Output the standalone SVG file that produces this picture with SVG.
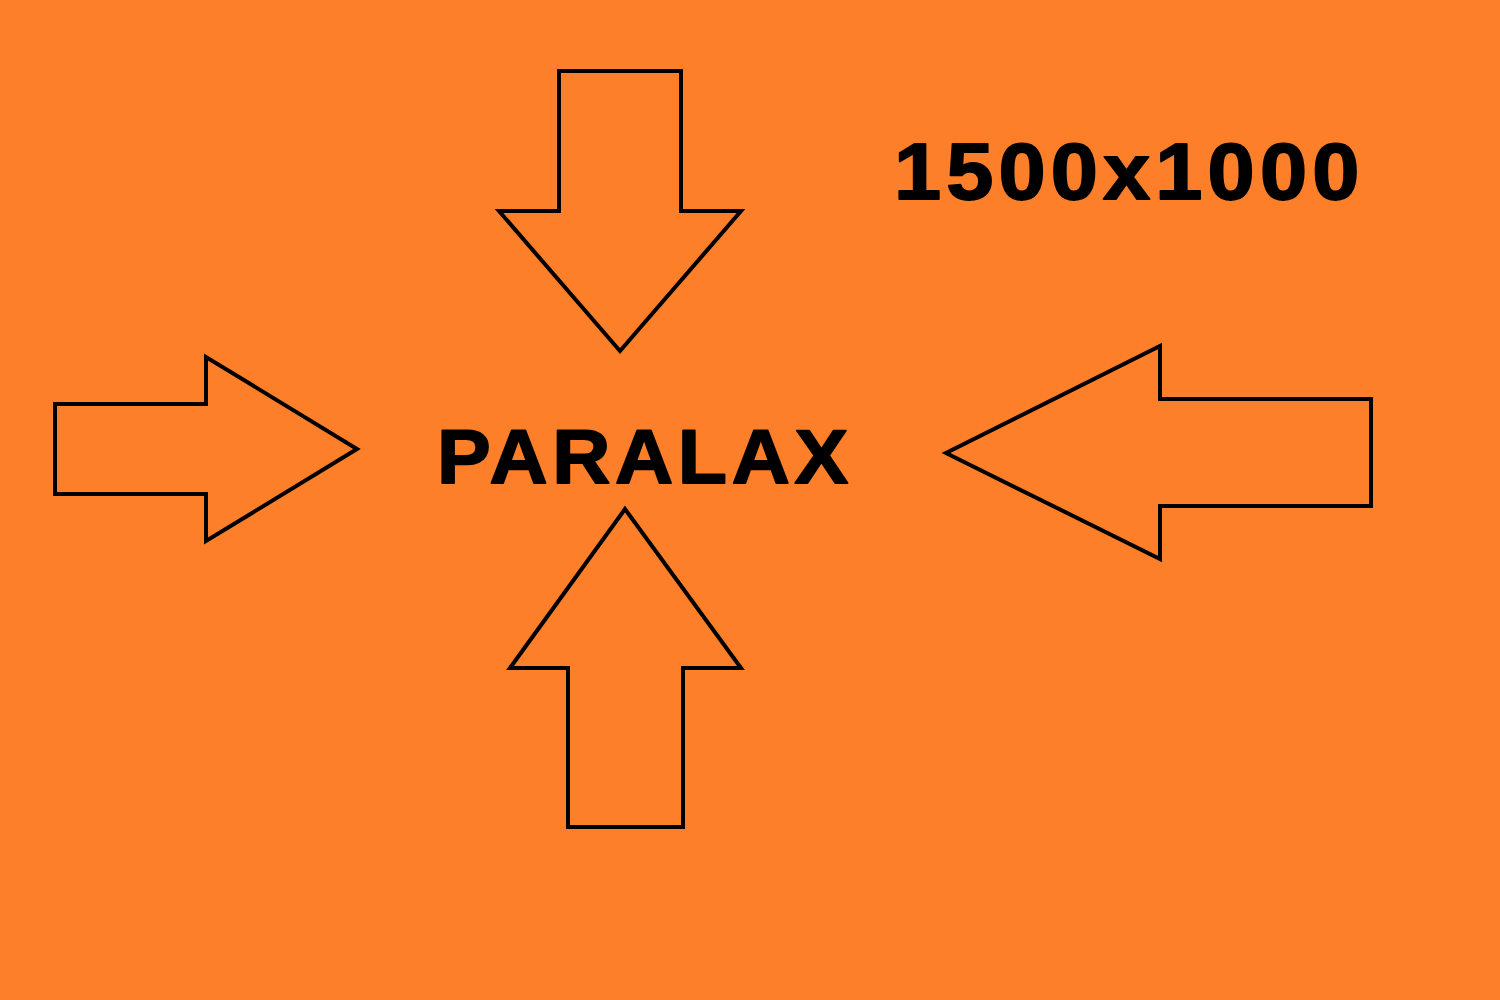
<svg xmlns="http://www.w3.org/2000/svg" width="1500" height="1000" viewBox="0 0 1500 1000">
<style>
.arrow{fill:none;stroke:#000;stroke-width:4;stroke-linejoin:miter}
.t{font-family:"Liberation Sans",Arial,sans-serif;font-weight:bold;fill:#000;stroke:#000;stroke-width:1.8;stroke-linejoin:round}
</style>
<rect width="1500" height="1000" fill="#FE7F2A"/>
<g id="arrow-top"><polygon class="arrow" points="559,71 681,71 681,211 741,211 620,351 499,211 559,211"/></g>
<g id="arrow-left"><polygon class="arrow" points="55,404 206,404 206,357 357,449 206,541 206,494 55,494"/></g>
<g id="arrow-right"><polygon class="arrow" points="1371,399 1160,399 1160,346 946,453 1160,559 1160,506 1371,506"/></g>
<g id="arrow-bottom"><polygon class="arrow" points="568,827 683,827 683,668 741,668 625,509 510,668 568,668"/></g>
<g id="label-paralax" transform="translate(437,483) scale(1.06,1)"><text class="t" x="0" y="0" font-size="76" textLength="388" lengthAdjust="spacing">PARALAX</text></g>
<g id="label-size" transform="translate(894,199) scale(1.06,1)"><text class="t" x="0" y="0" font-size="80" textLength="439" lengthAdjust="spacing">1500x1000</text></g>
<g id="connectors"></g>
</svg>
